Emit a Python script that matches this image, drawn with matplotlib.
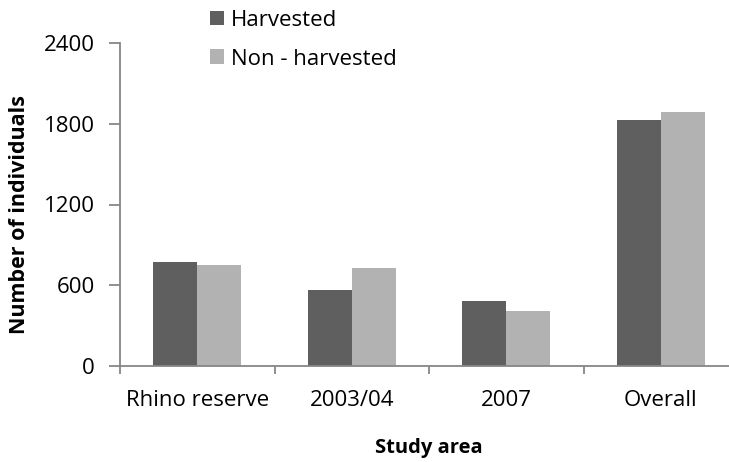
import numpy as np
import matplotlib.pyplot as plt

plt.rcParams['font.family'] = ['Open Sans', 'DejaVu Sans']

areas = ['Rhino reserve', '2003/04', '2007', 'Overall']
harvested = [770, 565, 483, 1828]
non_harvested = [748, 728, 409, 1890]
yticks = [0, 600, 1200, 1800, 2400]

dark = '#5f5f5f'
light = '#b2b2b2'
axcol = '#868686'

fig = plt.figure(figsize=(7.29, 4.62), dpi=100)
ax = fig.add_axes([120/729, 96/462, 618/729, 323/462])

x = np.arange(len(areas))
w = 0.284
ax.bar(x - w/2, harvested, w, color=dark, label='Harvested')
ax.bar(x + w/2, non_harvested, w, color=light, label='Non - harvested')

ax.set_xlim(-0.5, 3.5)
ax.set_ylim(0, 2400)
ax.set_yticks(yticks)
ax.set_xticks(np.arange(-0.5, 3.5, 1.0), minor=False)
ax.set_xticklabels([])
ax.set_xticks(x, minor=True)
ax.set_xticklabels(areas, minor=True, fontsize=16)
ax.tick_params(axis='x', which='minor', length=0, pad=17)
ax.tick_params(axis='x', which='major', length=6, color=axcol, width=1.3)
ax.tick_params(axis='y', length=8, color=axcol, width=1.3, labelsize=16, pad=10)

for s in ['top', 'right']:
    ax.spines[s].set_visible(False)
for s in ['left', 'bottom']:
    ax.spines[s].set_color(axcol)
    ax.spines[s].set_linewidth(1.3)

ax.set_ylabel('Number of individuals', fontsize=15.5, fontweight='bold')
ax.yaxis.set_label_coords(-0.145, 0.47)
ax.set_xlabel('Study area', fontsize=14.5, fontweight='bold', labelpad=20)

fig.legend(loc='upper left', bbox_to_anchor=(190/729, 1.022), frameon=False,
           fontsize=16, handlelength=0.65, handleheight=0.65, handletextpad=0.3,
           labelspacing=0.8)

fig.savefig('out.png', dpi=100)
